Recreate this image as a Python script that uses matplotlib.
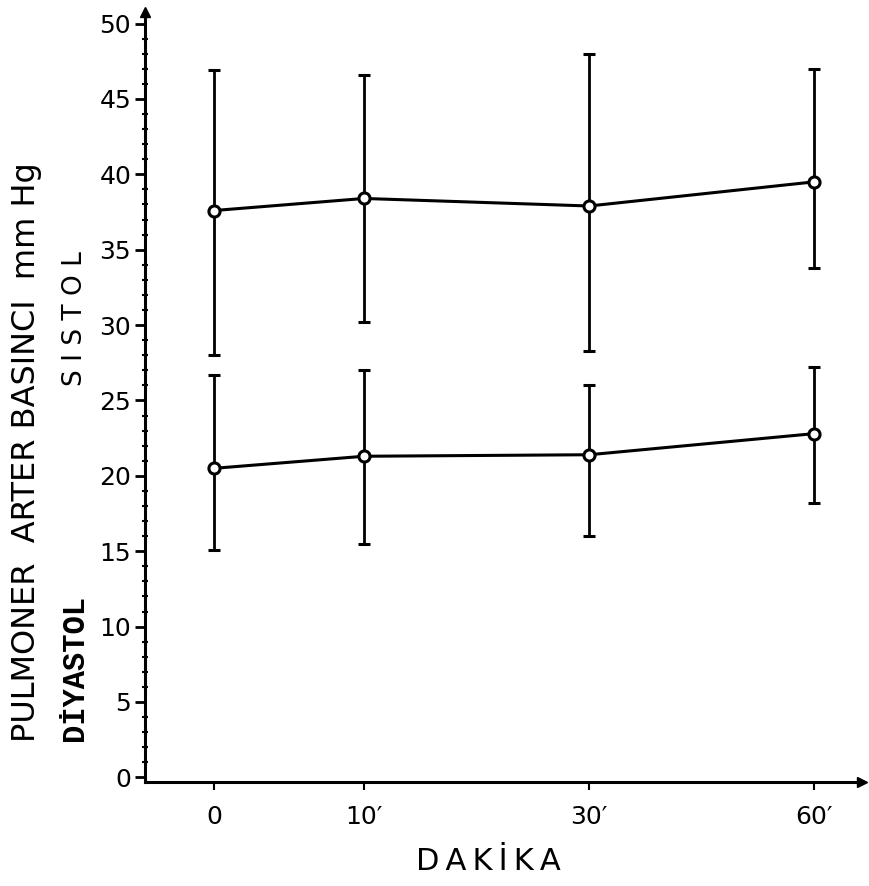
import matplotlib
matplotlib.use("Agg")
import matplotlib.pyplot as plt
from matplotlib.ticker import MultipleLocator

# Measurement times (minutes) and their spacing on the drawn axis
times = ["0", "10′", "30′", "60′"]
time_pos = [0, 1, 2.5, 4]

# Systolic pulmonary artery pressure, mean with lower / upper bar ends
sistol_mean = [37.6, 38.4, 37.9, 39.5]
sistol_low = [28.0, 30.2, 28.3, 33.8]
sistol_high = [46.9, 46.6, 48.0, 47.0]

# Diastolic pulmonary artery pressure
diyastol_mean = [20.5, 21.3, 21.4, 22.8]
diyastol_low = [15.1, 15.5, 16.0, 18.2]
diyastol_high = [26.7, 27.0, 26.0, 27.2]

fig = plt.figure(figsize=(8.69, 8.86), dpi=100)
ax = fig.add_axes([0.167, 0.117, 0.825, 0.870])


def draw_series(mean, low, high):
    err = [[m - lo for m, lo in zip(mean, low)], [hi - m for m, hi in zip(mean, high)]]
    ax.errorbar(time_pos, mean, yerr=err, color="black", lw=2.2, elinewidth=2.0,
                capsize=4, capthick=2.2, marker="o", ms=8, mfc="white",
                mec="black", mew=2.2, zorder=3)


draw_series(sistol_mean, sistol_low, sistol_high)
draw_series(diyastol_mean, diyastol_low, diyastol_high)

ax.set_xlim(-0.46, 4.32)
ax.set_ylim(-0.33, 50.8)

for side in ("top", "right"):
    ax.spines[side].set_visible(False)
ax.spines["left"].set_linewidth(2.2)
ax.spines["bottom"].set_linewidth(2.2)

# arrow heads at the axis ends
ax.plot(0, 1, marker="^", color="black", ms=7, transform=ax.transAxes, clip_on=False)
ax.plot(1, 0, marker=">", color="black", ms=7, transform=ax.transAxes, clip_on=False)

ax.yaxis.set_major_locator(MultipleLocator(5))
ax.yaxis.set_minor_locator(MultipleLocator(1))
ax.tick_params(axis="y", which="major", direction="out", length=7, width=2,
               labelsize=18, pad=3)
ax.tick_params(axis="y", which="minor", direction="inout", length=4, width=1.5)

ax.set_xticks(time_pos)
ax.set_xticklabels(times)
ax.tick_params(axis="x", direction="out", length=6, width=1.5, labelsize=18, pad=10)

fig.text(0.031, 0.49, "PULMONER  ARTER BASINCI  mm Hg", rotation=90,
         ha="center", va="center", fontsize=23)
fig.text(0.086, 0.641, "S I S T O L", rotation=90, ha="center", va="center",
         fontsize=19)
fig.text(0.086, 0.246, "DİYASTOL", rotation=90, ha="center", va="center",
         fontsize=22, family="Liberation Mono", weight="bold")
fig.text(0.562, 0.028, "D\u2009A\u2009K\u2009İ\u2009K\u2009A", ha="center",
         va="center", fontsize=22)

fig.savefig("out.png", dpi=100)
